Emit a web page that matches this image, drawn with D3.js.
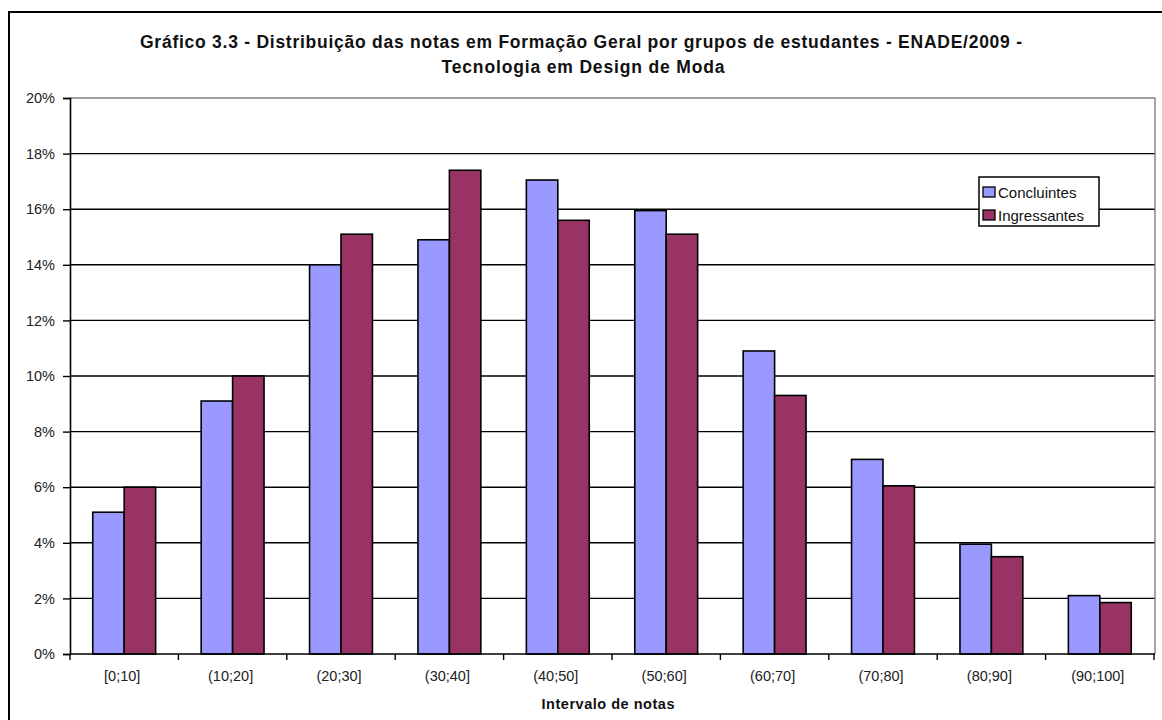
<!DOCTYPE html>
<html>
<head>
<meta charset="utf-8">
<script src="https://d3js.org/d3.v7.min.js"></script>
<style>
  body { margin: 0; background: #fff; }
  text { font-family: Arial, "Liberation Sans", sans-serif; }
</style>
</head>
<body>
<div id="chart"></div>
<script>
  // data
  var categories = ["[0;10]", "(10;20]", "(20;30]", "(30;40]", "(40;50]",
                    "(50;60]", "(60;70]", "(70;80]", "(80;90]", "(90;100]"];
  var seriesNames = ["Concluintes", "Ingressantes"];
  var concluintes  = [5.1, 9.1, 14.0, 14.9, 17.05, 15.95, 10.9, 7.0, 3.95, 2.1];
  var ingressantes = [6.0, 10.0, 15.1, 17.4, 15.6, 15.1, 9.3, 6.05, 3.5, 1.85];
  var yTicks = [0, 2, 4, 6, 8, 10, 12, 14, 16, 18, 20];
  var colors = ["#9999FF", "#993366"];

  var W = 1162, H = 720;
  var plot = {left: 70, right: 1155, top: 98, bottom: 654};

  var svg = d3.select("#chart").append("svg")
              .attr("width", W).attr("height", H);

  svg.append("rect").attr("width", W).attr("height", H).attr("fill", "#fff");
  // chart border (runs off the bottom/right of the picture)
  svg.append("rect")
     .attr("x", 9).attr("y", 12).attr("width", 1160).attr("height", 720)
     .attr("fill", "none").attr("stroke", "#000").attr("stroke-width", 2);

  // title
  var title = svg.append("text")
     .attr("text-anchor", "middle")
     .attr("font-weight", "bold").attr("font-size", 17.5).attr("fill", "#111");
  title.append("tspan").attr("x", 581).attr("y", 48)
       .attr("textLength", 882).attr("lengthAdjust", "spacing")
       .text("Gráfico 3.3 - Distribuição das notas em Formação Geral por grupos de estudantes - ENADE/2009 -");
  title.append("tspan").attr("x", 583).attr("y", 73)
       .attr("textLength", 283).attr("lengthAdjust", "spacing")
       .text("Tecnologia em Design de Moda");

  var x0 = d3.scaleBand().domain(categories)
             .range([plot.left, plot.right - 1]).paddingInner(0.42).paddingOuter(0.21);
  var x1 = d3.scaleBand().domain(seriesNames).range([0, x0.bandwidth()]);
  var y = d3.scaleLinear().domain([0, 20]).range([plot.bottom, plot.top]);

  // gridlines
  svg.append("g").selectAll("line")
     .data(yTicks.filter(function(d){ return d > 0 && d < 20; }))
     .enter().append("line")
     .attr("x1", plot.left).attr("x2", plot.right)
     .attr("y1", function(d){ return y(d); }).attr("y2", function(d){ return y(d); })
     .attr("stroke", "#000").attr("stroke-width", 1.4);

  // plot area border (grey top/right)
  svg.append("path")
     .attr("d", "M" + plot.left + "," + y(20) + "H" + plot.right + "V" + plot.bottom)
     .attr("fill", "none").attr("stroke", "#808080").attr("stroke-width", 1.4);

  // bars
  var rows = categories.map(function(c, i){
    return {cat: c, vals: [concluintes[i], ingressantes[i]]};
  });
  var groups = svg.append("g").selectAll("g")
     .data(rows).enter().append("g")
     .attr("transform", function(d){ return "translate(" + x0(d.cat) + ",0)"; });
  groups.selectAll("rect")
     .data(function(d){ return d.vals.map(function(v, j){ return {s: seriesNames[j], v: v, j: j}; }); })
     .enter().append("rect")
     .attr("x", function(d){ return x1(d.s); })
     .attr("width", x1.bandwidth())
     .attr("y", function(d){ return y(d.v); })
     .attr("height", function(d){ return y(0) - y(d.v); })
     .attr("fill", function(d){ return colors[d.j]; })
     .attr("stroke", "#000").attr("stroke-width", 1.6);

  // y axis
  var yAxis = svg.append("g")
     .attr("transform", "translate(" + plot.left + ",0)")
     .call(d3.axisLeft(y).tickValues(yTicks).tickSize(7).tickPadding(8)
             .tickFormat(function(d){ return d + "%"; }));
  yAxis.select(".domain").attr("stroke", "#000").attr("stroke-width", 1.6);
  yAxis.selectAll(".tick line").attr("stroke", "#000").attr("stroke-width", 1.4);
  yAxis.selectAll("text").attr("font-size", 14.5).attr("fill", "#222")
       .attr("font-family", "Arial, 'Liberation Sans', sans-serif");

  // x axis: ticks on category boundaries
  var bounds = d3.range(categories.length + 1).map(function(i){
    return plot.left + i * (plot.right - 1 - plot.left) / categories.length;
  });
  var xAxis = svg.append("g");
  xAxis.append("line")
     .attr("x1", plot.left).attr("x2", plot.right)
     .attr("y1", plot.bottom).attr("y2", plot.bottom)
     .attr("stroke", "#000").attr("stroke-width", 1.6);
  xAxis.selectAll(".tk").data(bounds).enter().append("line")
     .attr("class", "tk")
     .attr("x1", function(d){ return d; }).attr("x2", function(d){ return d; })
     .attr("y1", plot.bottom).attr("y2", plot.bottom + 6)
     .attr("stroke", "#000").attr("stroke-width", 1.4);
  xAxis.selectAll("text").data(categories).enter().append("text")
     .attr("x", function(d){ return x0(d) + x0.bandwidth() / 2 - 2; })
     .attr("y", plot.bottom + 27)
     .attr("text-anchor", "middle").attr("font-size", 14.5).attr("fill", "#222")
     .text(function(d){ return d; });

  svg.append("text")
     .attr("x", 608).attr("y", 709)
     .attr("text-anchor", "middle").attr("font-weight", "bold")
     .attr("font-size", 14.5).attr("fill", "#111")
     .attr("textLength", 133).attr("lengthAdjust", "spacing")
     .text("Intervalo de notas");

  // legend
  var lg = svg.append("g").attr("transform", "translate(979,177)");
  lg.append("rect").attr("width", 120).attr("height", 49)
    .attr("fill", "#fff").attr("stroke", "#000").attr("stroke-width", 1.5);
  var items = lg.selectAll("g").data(seriesNames).enter().append("g")
    .attr("transform", function(d, i){ return "translate(4," + (10 + i * 23) + ")"; });
  items.append("rect").attr("width", 12).attr("height", 10)
    .attr("fill", function(d, i){ return colors[i]; })
    .attr("stroke", "#000").attr("stroke-width", 1.3);
  items.append("text").attr("x", 15).attr("y", 10.5)
    .attr("font-size", 15).attr("fill", "#111")
    .text(function(d){ return d; });
</script>
</body>
</html>
